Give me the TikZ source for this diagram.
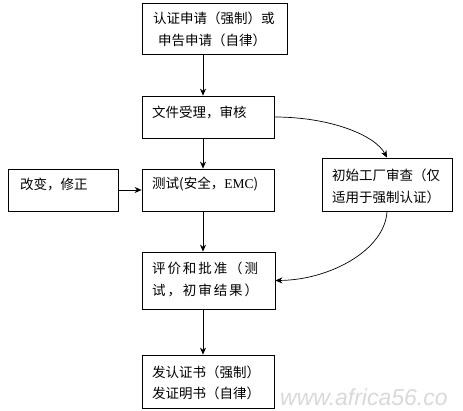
\documentclass[tikz,border=0pt]{standalone}
\usepackage{fontspec}
\setmainfont{Noto Sans CJK SC}
\newfontfamily\cjkwide[LetterSpace=14]{Noto Sans CJK SC}
\newfontfamily\latinserif{Liberation Serif}
\newfontfamily\wmfont{Liberation Sans}
\usetikzlibrary{arrows.meta}
\begin{document}
\begin{tikzpicture}[x=1pt,y=1pt,
  box/.style={draw, line width=0.8pt, inner sep=0pt, rectangle},
  lbl/.style={anchor=west, inner sep=0pt, font=\fontsize{13.5}{16}\selectfont},
  arr/.style={line width=0.7pt, -{Stealth[length=7pt,width=6pt]}}]
\useasboundingbox (0,0) rectangle (463,-411);
\clip (0,0) rectangle (463,-411);
\fill[white] (0,0) rectangle (463,-411);

% boxes
\node[box, minimum width=145pt, minimum height=51pt] (b1) at (214.5,-28.5) {};
\node[box, minimum width=132pt, minimum height=42pt] (b2) at (208,-117) {};
\node[box, minimum width=132pt, minimum height=42pt] (b3) at (208,-190) {};
\node[box, minimum width=130pt, minimum height=53pt] (bf) at (387,-184.5) {};
\node[box, minimum width=110pt, minimum height=42pt] (bc) at (63,-190) {};
\node[box, minimum width=133pt, minimum height=57pt] (b4) at (208.5,-280.5) {};
\node[box, minimum width=132pt, minimum height=53pt] (b5) at (208,-381.5) {};

% texts
\node[lbl] (t1a) at (153,-18) {认证申请（强制）或};
\node[lbl] (t1b) at (158,-40) {申告申请（自律）};
\node[lbl] (t2) at (152,-113) {文件受理，审核};
\node[lbl] (t3) at (152,-184) {测试(安全，{\latinserif EMC})};
\node[lbl] (tfa) at (332,-175) {初始工厂审查（仅};
\node[lbl] (tfb) at (332,-197) {适用于强制认证）};
\node[lbl] (tc) at (20,-184) {改变，修正};
\node[lbl, font=\cjkwide\fontsize{13.5}{16}\selectfont] (t4a) at (152,-268) {评价和批准（测};
\node[lbl, font=\cjkwide\fontsize{13.5}{16}\selectfont] (t4b) at (152,-290) {试，初审结果）};
\node[lbl] (t5a) at (152,-372) {发认证书（强制）};
\node[lbl] (t5b) at (152,-393) {发证明书（自律）};

% connectors
\coordinate (ax) at (203,0);
\draw[arr] (b1.south -| ax) -- (b2.north -| ax);
\draw[arr] (b2.south -| ax) -- (b3.north -| ax);
\draw[arr] (b3.south -| ax) -- (b4.north -| ax);
\draw[arr] (b4.south -| ax) -- (b5.north -| ax);
\draw[arr] (bc.east) -- (b3.west);
\draw[arr] (b2.east) .. controls (330,-117) and (375,-135) .. (bf.north);
\draw[arr] (bf.south) .. controls (385,-250) and (330,-280) .. (b4.east);

% watermark
\node[anchor=base west, inner sep=0pt, text=gray!30,
  font=\wmfont\itshape\fontsize{23}{23}\selectfont] (wm) at (280,-405.5) {www.africa56.co};
\end{tikzpicture}
\end{document}
